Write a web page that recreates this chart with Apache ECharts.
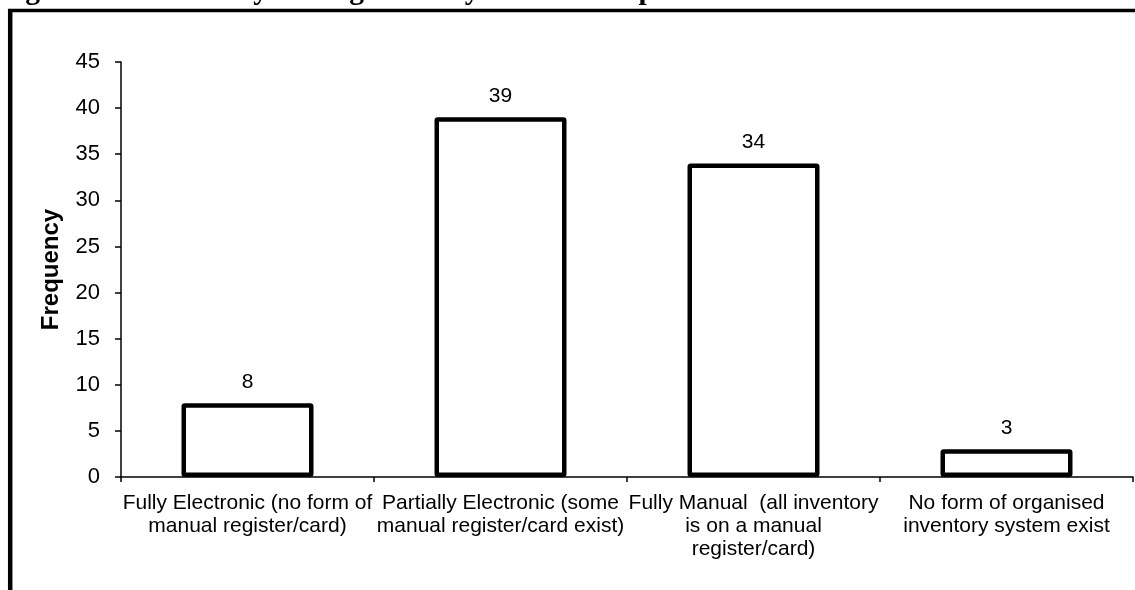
<!DOCTYPE html>
<html>
<head>
<meta charset="utf-8">
<style>
  html, body { margin: 0; padding: 0; background: #ffffff; }
  #chart { width: 1135px; height: 590px; }
</style>
<script src="https://cdn.jsdelivr.net/npm/echarts@6/dist/echarts.min.js"></script>
</head>
<body>
<div id="chart"></div>
<script>
// Survey responses: type of inventory management system used by hospitals
const categories = [
  'Fully Electronic (no form of\nmanual register/card)',
  'Partially Electronic (some\nmanual register/card exist)',
  'Fully Manual  (all inventory\nis on a manual\nregister/card)',
  'No form of organised\ninventory system exist'
];
const frequency = [8, 39, 34, 3];
const yTicks = { min: 0, max: 45, step: 5 };
const figureTitle = 'Figure 4.2: Inventory Management Systems in Hospitals';
const yAxisTitle = 'Frequency';

const sans = '"Liberation Sans", Arial, sans-serif';
const serif = '"Liberation Serif", "Times New Roman", serif';

const chart = echarts.init(document.getElementById('chart'), null, { renderer: 'canvas' });

chart.setOption({
  backgroundColor: '#ffffff',
  animation: false,
  grid: { left: 121, right: 2, top: 62, bottom: 113 },
  graphic: [
    {
      // caption above the framed chart area
      type: 'text',
      x: 0,
      y: 0,
      z: 10,
      style: {
        text: figureTitle,
        x: -1,
        y: -24,
        align: 'left',
        verticalAlign: 'top',
        font: 'bold 29.5px ' + serif,
        fill: '#000000'
      }
    },
    {
      type: 'line',
      z: 10,
      shape: { x1: 8, y1: 10.5, x2: 1135, y2: 10.5 },
      style: { stroke: '#000000', lineWidth: 3.5 }
    },
    {
      type: 'line',
      z: 10,
      shape: { x1: 10.2, y1: 9, x2: 10.2, y2: 590 },
      style: { stroke: '#000000', lineWidth: 4.5 }
    }
  ],
  xAxis: {
    type: 'category',
    data: categories,
    boundaryGap: true,
    axisLine: { show: true, lineStyle: { color: '#000000', width: 1.5 } },
    axisTick: { show: true, inside: false, length: 5, alignWithLabel: false, lineStyle: { color: '#000000', width: 1.5 } },
    axisLabel: {
      interval: 0,
      margin: 15,
      color: '#000000',
      fontFamily: sans,
      fontSize: 21,
      lineHeight: 23,
      align: 'center'
    },
    splitLine: { show: false }
  },
  yAxis: {
    type: 'value',
    min: yTicks.min,
    max: yTicks.max,
    interval: yTicks.step,
    name: yAxisTitle,
    nameLocation: 'middle',
    nameGap: 58,
    nameRotate: 90,
    nameTextStyle: {
      color: '#000000',
      fontFamily: sans,
      fontWeight: 'bold',
      fontSize: 24
    },
    axisLine: { show: true, lineStyle: { color: '#000000', width: 1.5 } },
    axisTick: { show: true, inside: false, length: 6, lineStyle: { color: '#000000', width: 1.5 } },
    axisLabel: {
      margin: 21,
      color: '#000000',
      fontFamily: sans,
      fontSize: 22
    },
    splitLine: { show: false }
  },
  series: [
    {
      type: 'bar',
      data: frequency,
      barWidth: 132,
      itemStyle: {
        color: '#ffffff',
        borderColor: '#000000',
        borderWidth: 4.5,
        borderRadius: 1
      },
      label: {
        show: true,
        position: 'top',
        distance: 11,
        color: '#000000',
        fontFamily: sans,
        fontSize: 21
      }
    }
  ]
});
</script>
</body>
</html>
